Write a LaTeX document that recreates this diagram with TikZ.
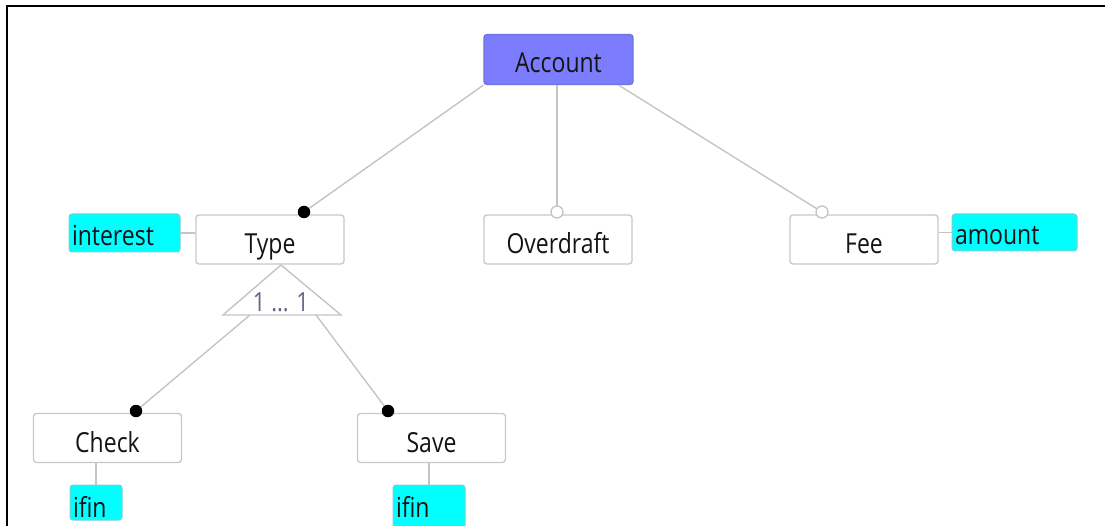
\documentclass[tikz,border=0pt]{standalone}
\usepackage{fontspec}
\setmainfont{Open Sans}
\usetikzlibrary{calc}
\definecolor{boxgray}{RGB}{200,200,200}
\definecolor{linegray}{RGB}{196,196,196}
\definecolor{rootfill}{RGB}{124,124,255}
\definecolor{rootedge}{RGB}{112,112,225}
\definecolor{attrfill}{RGB}{0,255,255}
\definecolor{attredge}{RGB}{120,210,210}
\definecolor{cardtext}{RGB}{100,100,135}
\definecolor{labeltext}{RGB}{20,20,20}
% taller-than-wide lettering
\newcommand\tallword[1]{\scalebox{1}[1.2]{#1}}
\begin{document}
\begin{tikzpicture}[x=1pt,y=-1pt,
  labelfont/.style={font=\fontsize{23}{27}\selectfont},
  feature/.style={draw=boxgray, line width=1.3pt, rounded corners=3pt, fill=white,
    minimum width=148pt, minimum height=49pt, inner sep=0pt,
    labelfont, text=labeltext, text height=28pt, text depth=0pt},
  rootfeature/.style={feature, fill=rootfill, draw=rootedge},
  attribute/.style={draw=attredge, line width=1pt, rounded corners=3pt, fill=attrfill,
    inner xsep=3pt, inner ysep=0pt, align=left,
    labelfont, text=labeltext, text depth=0pt},
  conn/.style={draw=linegray, line width=1.4pt},
  mandatory/.style={circle, fill=black, inner sep=0pt, minimum size=12.5pt},
  optional/.style={circle, fill=white, draw=linegray, line width=1.3pt, inner sep=0pt, minimum size=12pt},
]
\useasboundingbox (0,0) rectangle (1105,526);

% outer frame (top and left edges)
\draw[line width=2pt, black] (1105,6.5) -- (6.5,6.5) -- (6.5,526);

% features
\node[rootfeature, minimum width=149pt, minimum height=50pt, text height=26pt] (account) at (558.5,59.5) {\tallword{Account}};
\node[feature] (type) at (270,239.5) {\tallword{Type}};
\node[feature] (overdraft) at (558,239.5) {\tallword{Overdraft}};
\node[feature] (fee) at (864,239.5) {\tallword{Fee}};
\node[feature] (check) at (107.5,438) {\tallword{Check}};
\node[feature] (save) at (431.5,438) {\tallword{Save}};

% attributes
\node[attribute, text width=105pt, minimum height=38pt, text height=25pt] (interest) at (124.5,233) {\tallword{interest}};
\node[attribute, text width=119pt, minimum height=37pt, text height=25pt] (amount) at (1014.5,232.5) {\tallword{amount}};
\node[attribute, text width=46pt, minimum height=35pt, text height=29pt] (ifincheck) at (96,502.5) {\tallword{ifin}};
\node[attribute, text width=66pt, minimum height=45pt, text height=20pt] (ifinsave) at (429,507.5) {\tallword{ifin}};

% alternative group below Type
\coordinate (apex) at (281,265);
\coordinate (baseL) at (223,315);
\coordinate (baseR) at (341,315);
\draw[conn, fill=white] (apex) -- (baseL) -- (baseR) -- cycle;
\node[font=\fontsize{22}{26}\selectfont, text=cardtext, inner sep=0pt, text height=19pt, text depth=0pt] (card) at (281,302.5) {\tallword{1 ... 1}};
\coordinate (outL) at (250,315);
\coordinate (outR) at (316,315);

% connection markers
\coordinate (typedot) at (304,212);
\coordinate (overdot) at (557,212);
\coordinate (feedot) at (822,212);
\coordinate (checkdot) at (136,411);
\coordinate (savedot) at (388,411);

% tree edges
\draw[conn] (account.south west) -- (typedot);
\draw[conn] (account.south -| overdot) -- (overdot);
\draw[conn] ($(account.south east)+(-15,0)$) -- (feedot);
\draw[conn] (outL) -- (checkdot);
\draw[conn] (outR) -- (savedot);

% attribute links
\draw[conn] (interest.east) -- (interest.east -| type.west);
\draw[conn] (amount.west -| fee.east) -- (amount.west);
\draw[conn] (ifincheck.north) -- (ifincheck.north |- check.south);
\draw[conn] (ifinsave.north) -- (ifinsave.north |- save.south);

% markers on top of the edge ends
\node[mandatory] (typemark) at (typedot) {};
\node[optional] (overmark) at (overdot) {};
\node[optional] (feemark) at (feedot) {};
\node[mandatory] (checkmark) at (checkdot) {};
\node[mandatory] (savemark) at (savedot) {};
\end{tikzpicture}
\end{document}
